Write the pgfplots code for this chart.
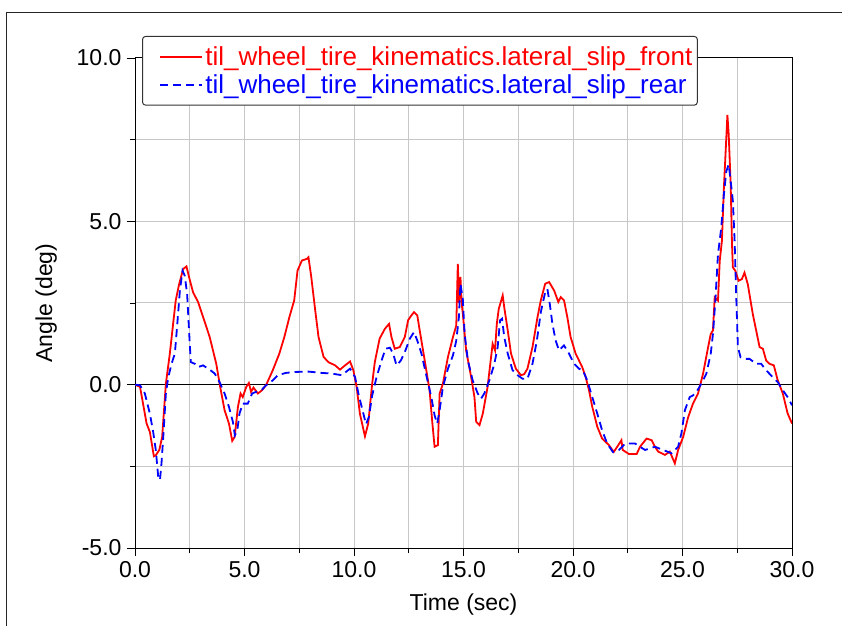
\documentclass[border=0pt]{standalone}
\usepackage{fontspec}
\setmainfont{Liberation Sans}
\usepackage{pgfplots}
\pgfplotsset{compat=1.18}
\begin{document}
\begin{tikzpicture}
\useasboundingbox (0pt,0pt) rectangle (842pt,626pt);
\draw[line width=1.3pt, black!85] (6.5pt,0pt) -- (6.5pt,613.5pt) -- (842pt,613.5pt);
\begin{axis}[
  at={(135pt,78pt)}, anchor=south west,
  scale only axis, width=657pt, height=490pt,
  xmin=0, xmax=30, ymin=-5, ymax=10,
  xtick={0,5,...,30}, ytick={-5,0,5,10},
  xtick pos=bottom, ytick pos=left,
  minor tick num=1,
  grid=both,
  major grid style={draw=black!22, line width=1pt},
  minor grid style={draw=black!22, line width=1pt},
  tick align=outside,
  major tick length=8pt, minor tick length=5pt,
  tick style={black, line width=0.8pt},
  axis line style={black, line width=1pt},
  font=\fontsize{23}{27}\selectfont,
  /pgf/number format/.cd, fixed, fixed zerofill, precision=1, 1000 sep={}, assume math mode=true,
  /pgfplots/.cd,
  xticklabel style={yshift=-2pt},
  yticklabel style={xshift=-2pt},
  xlabel={Time (sec)}, ylabel={Angle (deg)},
  xlabel style={yshift=-9pt},
  ylabel style={yshift=13pt},
  legend style={at={(0.0107,1.045)}, anchor=north west, draw=black!80, line width=1pt,
    rounded corners=3pt, fill=white, font=\fontsize{26}{31}\selectfont,
    inner xsep=3pt, inner ysep=8pt, row sep=4pt,
    /tikz/every even column/.append style={column sep=4pt}},
  legend cell align=left,
  legend image code/.code={\path (0pt,0pt); \draw[#1] (14pt,0pt) -- (56pt,0pt);},
]
\addplot[black, line width=0.9pt, forget plot] coordinates {(0,0) (30,0)};
\addplot[red, line width=1.8pt] coordinates {
(0,0) (0.23,-0.07) (0.53,-1.19) (0.68,-1.45) (0.86,-2.19) (0.95,-2.16) (1.11,-2.0) (1.24,-1.6) (1.41,0.03) (1.59,0.95) (1.74,1.86) (1.86,2.58) (2.02,3.09) (2.2,3.54) (2.35,3.62) (2.47,3.29) (2.65,2.83) (2.88,2.53) (3.11,2.07) (3.41,1.46) (3.71,0.64) (3.89,-0.07) (4.09,-0.78) (4.29,-1.19) (4.44,-1.72) (4.55,-1.6) (4.7,-0.68) (4.82,-0.27) (4.92,-0.38) (5.08,-0.07) (5.2,0.05) (5.3,-0.22) (5.41,-0.09) (5.61,-0.27) (5.8,-0.17) (5.98,-0.02) (6.29,0.44) (6.59,0.95) (6.82,1.46) (7.05,2.07) (7.27,2.58) (7.42,3.49) (7.62,3.8) (7.85,3.85) (7.92,3.9) (8.05,3.29) (8.23,2.27) (8.38,1.46) (8.61,0.85) (8.83,0.69) (9.14,0.59) (9.36,0.46) (9.59,0.59) (9.82,0.71) (9.97,0.44) (10.12,-0.07) (10.27,-0.89) (10.5,-1.58) (10.65,-1.19) (10.83,0.03) (10.95,0.69) (11.17,1.41) (11.41,1.71) (11.6,1.86) (11.71,1.46) (11.86,1.1) (12.09,1.15) (12.32,1.46) (12.47,1.97) (12.62,2.12) (12.74,2.22) (12.89,2.12) (13.0,1.66) (13.23,0.74) (13.45,-0.17) (13.58,-1.19) (13.68,-1.9) (13.83,-1.85) (13.91,-0.27) (14.06,0.03) (14.29,0.85) (14.52,1.46) (14.67,1.81) (14.74,3.7) (14.8,2.5) (14.86,3.3) (14.92,2.47) (14.97,2.17) (15.12,1.05) (15.35,0.23) (15.5,-0.38) (15.58,-1.14) (15.73,-1.24) (15.88,-0.89) (16.1,-0.07) (16.26,0.85) (16.33,1.25) (16.44,1.05) (16.52,1.86) (16.61,2.32) (16.79,2.73) (16.86,2.37) (17.02,1.66) (17.17,0.95) (17.39,0.49) (17.62,0.29) (17.77,0.32) (17.92,0.49) (18.15,1.15) (18.38,2.07) (18.53,2.58) (18.73,3.09) (18.91,3.14) (19.14,2.88) (19.33,2.53) (19.44,2.68) (19.59,2.58) (19.74,2.07) (19.89,1.46) (20.12,0.95) (20.42,0.54) (20.58,0.23) (20.73,-0.17) (20.88,-0.68) (21.11,-1.29) (21.33,-1.65) (21.64,-1.85) (21.86,-2.06) (22.02,-1.9) (22.21,-1.7) (22.27,-2.0) (22.55,-2.12) (22.91,-2.12) (23.06,-1.9) (23.36,-1.65) (23.59,-1.7) (23.74,-1.9) (23.89,-2.05) (24.2,-2.15) (24.42,-2.05) (24.65,-2.41) (24.8,-2.0) (25.03,-1.6) (25.26,-0.99) (25.48,-0.58) (25.71,-0.27) (25.94,0.34) (26.17,1.15) (26.29,1.55) (26.39,1.66) (26.47,2.67) (26.62,2.57) (26.7,3.79) (26.8,4.4) (26.89,6.03) (26.97,7.14) (27.05,8.26) (27.11,7.65) (27.2,6.13) (27.26,4.3) (27.3,3.59) (27.41,3.49) (27.56,3.18) (27.71,3.23) (27.83,3.43) (27.98,3.08) (28.21,2.16) (28.52,1.15) (28.67,1.1) (28.82,0.74) (28.97,0.64) (29.17,0.59) (29.35,0.13) (29.58,-0.27) (29.8,-0.88) (30,-1.19)
};
\addlegendentry{\textcolor{red}{til\_wheel\_tire\_kinematics.lateral\_slip\_front}}
\addplot[blue, line width=1.8pt, dash pattern=on 8pt off 5pt] coordinates {
(0,0) (0.23,-0.02) (0.45,-0.27) (0.68,-0.89) (0.83,-1.45) (0.95,-2.0) (1.06,-2.82) (1.14,-2.92) (1.21,-2.41) (1.29,-1.6) (1.41,-0.27) (1.52,0.23) (1.67,0.64) (1.82,0.95) (1.92,1.76) (2.05,2.88) (2.17,3.49) (2.27,3.34) (2.38,2.78) (2.5,1.25) (2.55,0.69) (2.73,0.64) (2.88,0.54) (3.11,0.59) (3.41,0.46) (3.64,0.34) (3.86,0.08) (4.09,-0.27) (4.29,-0.68) (4.47,-1.14) (4.56,-1.55) (4.67,-1.4) (4.77,-0.89) (4.92,-0.58) (5.15,-0.58) (5.35,-0.27) (5.53,-0.22) (5.8,-0.15) (5.98,-0.02) (6.29,0.13) (6.52,0.29) (6.89,0.36) (7.35,0.39) (7.92,0.4) (8.53,0.36) (8.98,0.34) (9.44,0.29) (9.82,0.49) (10.05,0.23) (10.2,-0.27) (10.35,-0.68) (10.55,-1.21) (10.68,-0.99) (10.83,-0.33) (11.03,0.23) (11.26,0.74) (11.44,1.1) (11.64,1.13) (11.79,0.95) (11.94,0.59) (12.14,0.74) (12.35,1.05) (12.55,1.41) (12.74,1.61) (12.89,1.35) (13.08,0.95) (13.3,0.29) (13.53,-0.38) (13.68,-0.94) (13.8,-1.19) (13.91,-0.78) (14.06,-0.07) (14.29,0.49) (14.52,0.9) (14.67,1.35) (14.79,2.07) (14.86,3.09) (14.97,2.6) (15.05,1.56) (15.2,0.74) (15.42,0.13) (15.65,-0.27) (15.8,-0.43) (15.95,-0.27) (16.18,0.13) (16.41,0.64) (16.56,1.15) (16.67,1.97) (16.76,2.02) (16.86,1.46) (17.02,0.95) (17.24,0.44) (17.47,0.29) (17.7,0.18) (17.92,0.18) (18.15,0.64) (18.35,1.35) (18.53,2.22) (18.73,2.83) (18.83,2.93) (18.94,2.47) (19.06,1.86) (19.21,1.35) (19.36,1.05) (19.59,1.2) (19.82,0.95) (20.05,0.64) (20.27,0.49) (20.45,0.44) (20.65,0.13) (20.88,-0.38) (21.11,-0.89) (21.33,-1.4) (21.56,-1.8) (21.82,-2.06) (22.09,-2.0) (22.39,-1.8) (22.83,-1.8) (23.29,-2.0) (23.74,-1.9) (24.12,-2.0) (24.5,-2.1) (24.8,-1.9) (24.95,-1.49) (25.11,-0.78) (25.33,-0.38) (25.48,-0.33) (25.64,-0.22) (25.86,0.03) (26.09,0.34) (26.29,0.95) (26.39,1.55) (26.5,2.57) (26.62,3.99) (26.77,4.81) (26.89,5.82) (27.0,6.53) (27.11,6.74) (27.2,6.23) (27.3,5.62) (27.38,4.4) (27.45,2.77) (27.53,1.15) (27.65,0.84) (27.83,0.79) (28.06,0.79) (28.36,0.64) (28.59,0.64) (28.82,0.44) (29.12,0.23) (29.35,0.08) (29.58,-0.17) (29.8,-0.38) (30,-0.63)
};
\addlegendentry{\textcolor{blue}{til\_wheel\_tire\_kinematics.lateral\_slip\_rear}}
\end{axis}
\end{tikzpicture}
\end{document}
